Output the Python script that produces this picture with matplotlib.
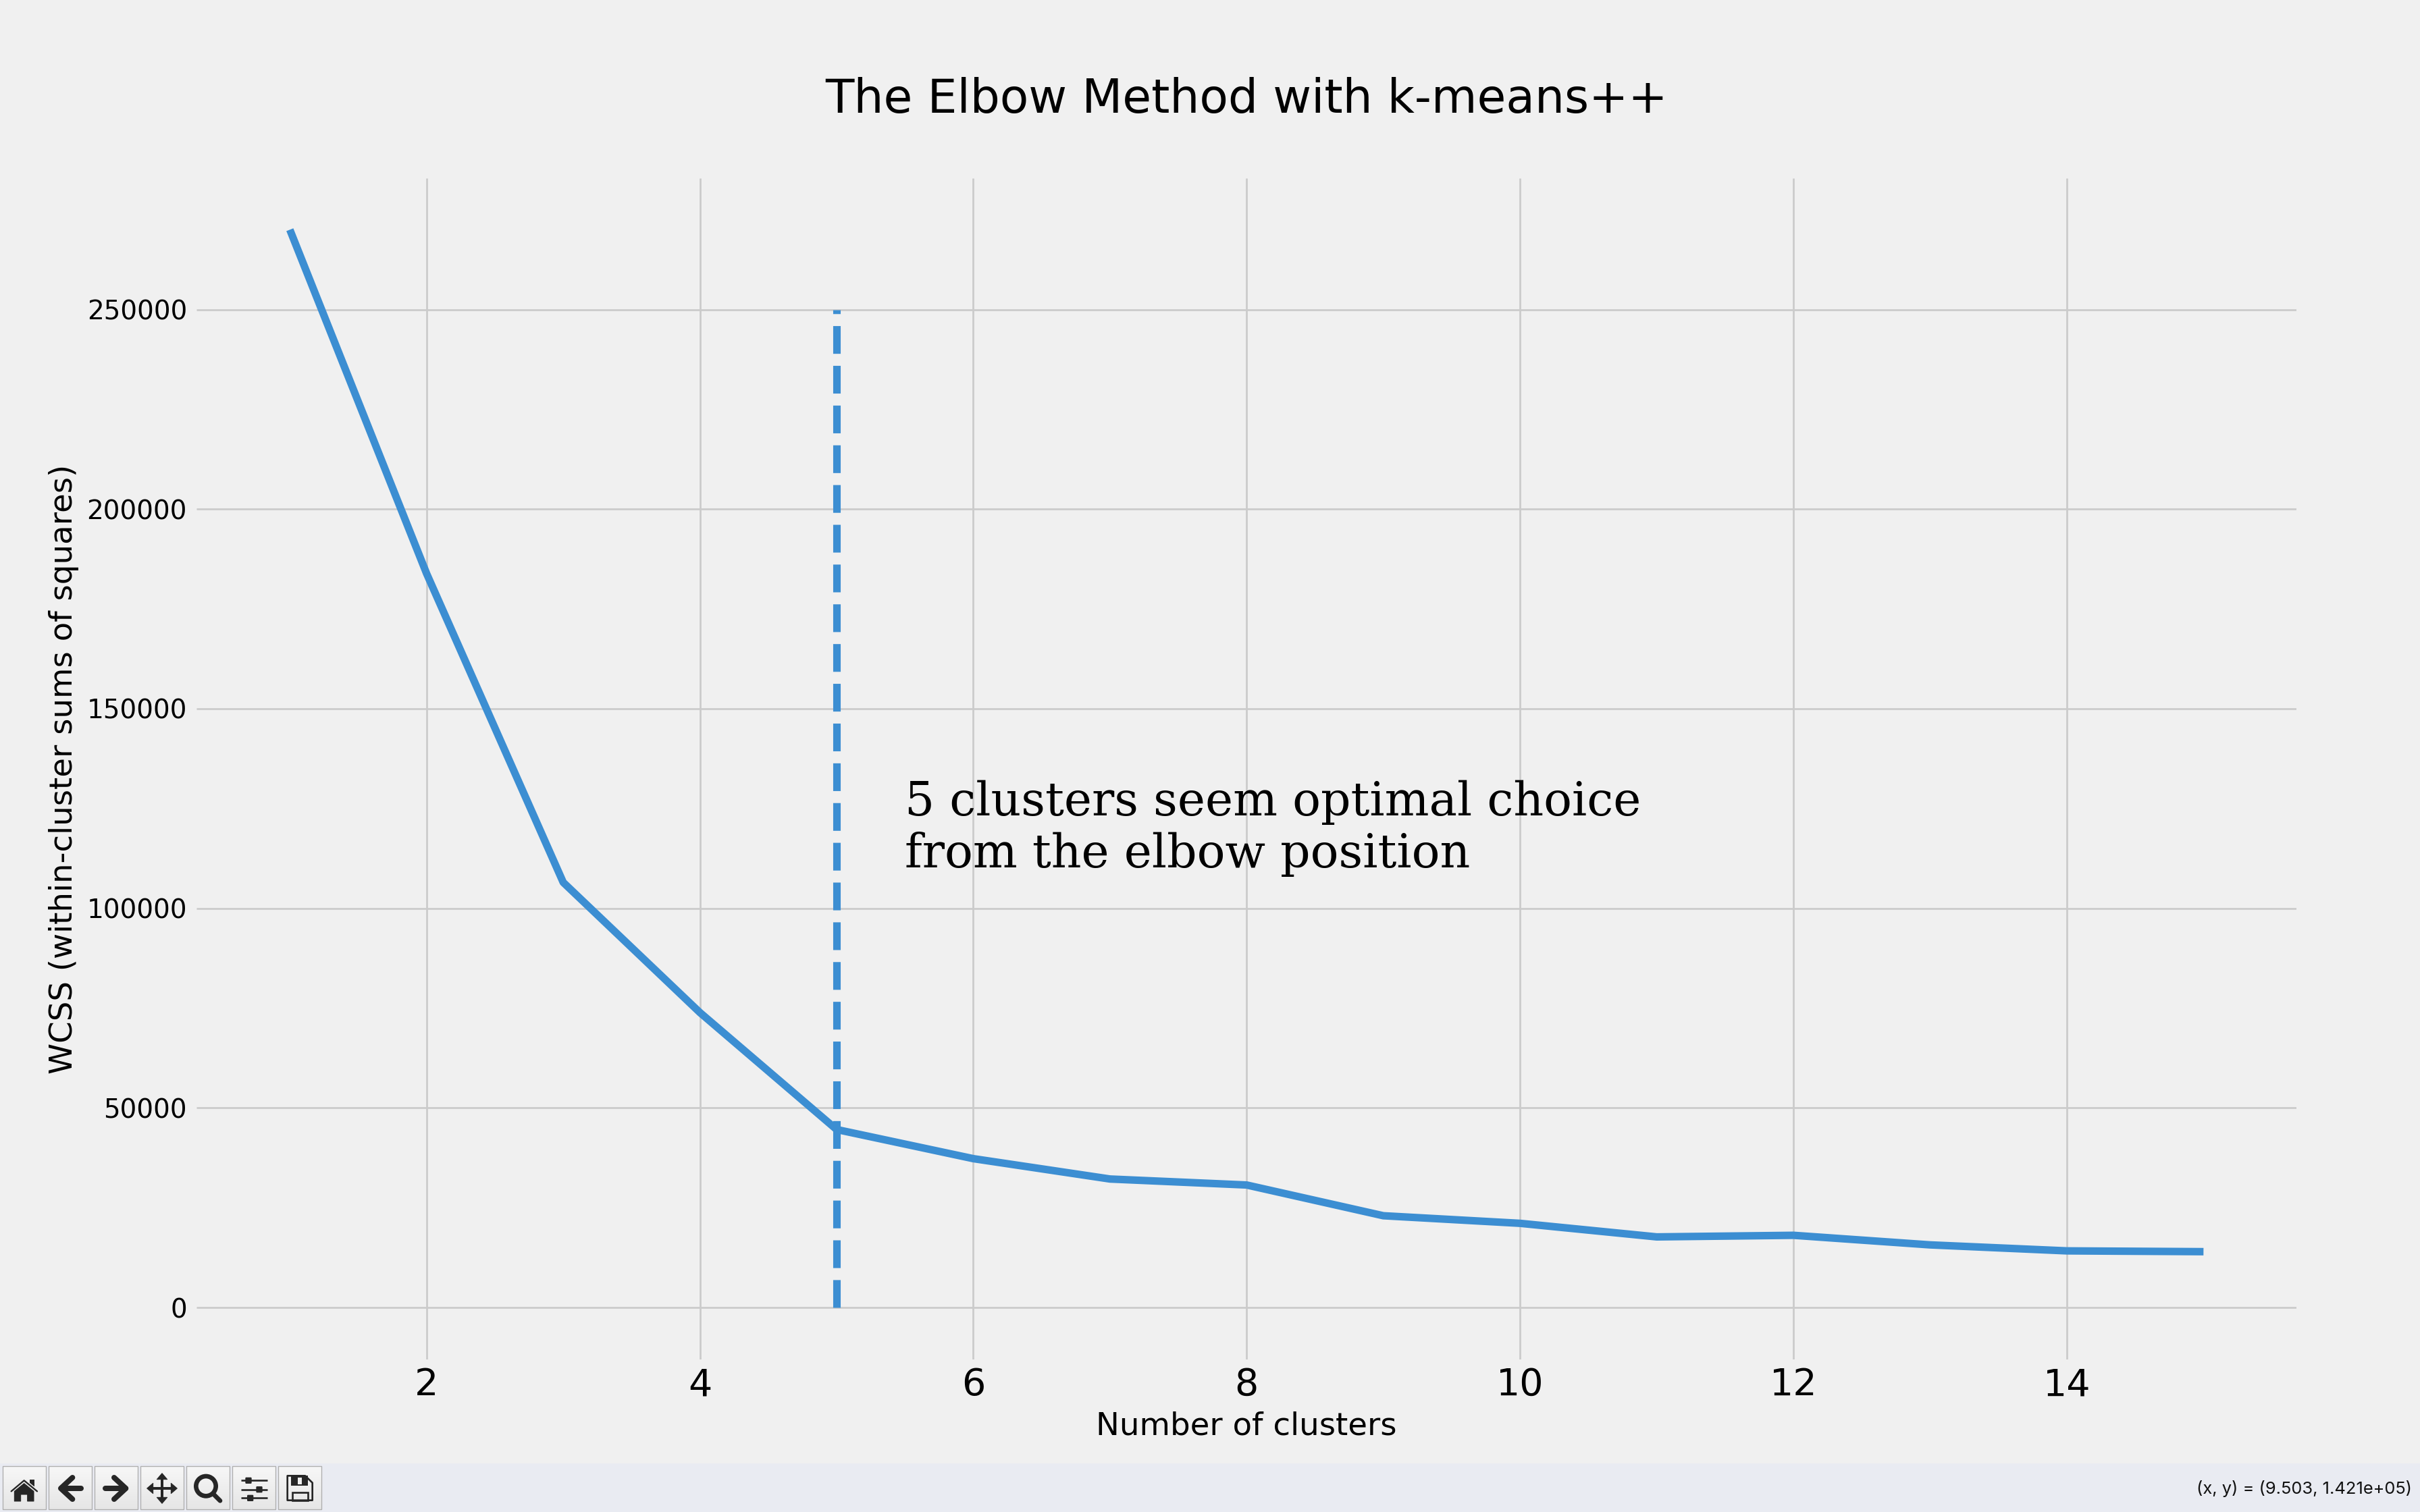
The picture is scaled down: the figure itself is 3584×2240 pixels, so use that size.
import matplotlib
matplotlib.use("Agg")
import matplotlib.pyplot as plt
import numpy as np
from matplotlib.colors import LinearSegmentedColormap
from matplotlib.patches import Rectangle, Polygon, Circle, FancyBboxPatch

plt.style.use("fivethirtyeight")

clusters = list(range(1, 16))
wcss = [270000, 183900, 106500, 73900, 44600, 37300, 32200, 30700,
        23000, 21100, 17700, 18100, 15700, 14200, 14000]
elbow_x = 5
elbow_top = 250000
x_ticks = [2, 4, 6, 8, 10, 12, 14]
y_ticks = [0, 50000, 100000, 150000, 200000, 250000]

LINE_COLOR = "#3c8ed2"
BG = "#f0f0f0"
BAR = "#e9ebf2"
ICON = "#262626"

W, H = 3584, 2240
fig = plt.figure(figsize=(W / 200, H / 200), dpi=200, facecolor=BG)
ax = fig.add_axes([291 / W, 1 - 2014 / H, (3401 - 291) / W, (2014 - 264) / H], facecolor=BG)

ax.plot(clusters, wcss, color=LINE_COLOR, lw=4)
ax.vlines(elbow_x, 0, elbow_top, color=LINE_COLOR, lw=4, linestyles="dashed")
ax.text(5.5, 110200, "5 clusters seem optimal choice\nfrom the elbow position",
        family="serif", fontsize=25, color="black")

ax.set_xlim(0.317, 15.68)
ax.set_ylim(-13000, 282900)
ax.set_xticks(x_ticks)
ax.set_yticks(y_ticks)
ax.tick_params(axis="x", labelsize=20, length=0, pad=4)
ax.tick_params(axis="y", labelsize=14, length=0, pad=5)
ax.grid(True, color="#cbcbcb", lw=1)
for s in ax.spines.values():
    s.set_visible(False)
ax.set_title("The Elbow Method with k-means++", fontsize=25, pad=35)
ax.set_xlabel("Number of clusters", fontsize=16.8, labelpad=4)
ax.set_ylabel("WCSS (within-cluster sums of squares)", fontsize=16.8, labelpad=4)

# window toolbar along the bottom
fig.patches.append(Rectangle((0, 0), 1, 72 / H, transform=fig.transFigure, color=BAR, lw=0))
fig.text(3572 / W, 1 - 2205 / H, "(x, y) = (9.503, 1.421e+05)", family="Inter",
         fontsize=9.2, ha="right", va="center", color="#111111")

# this axes uses the same units as a 3x crop of the bottom left corner
tb = fig.add_axes([0, 0, 520 / W, 100 / H])
tb.set_zorder(5)
tb.axis("off")


def z(width):
    return width * 0.12


grad = np.linspace(0, 1, 64).reshape(-1, 1)
btn_cmap = LinearSegmentedColormap.from_list("btn", ["#e6e6e6", "#f7f7f7"])
for i in range(7):
    x0 = 12 + 204 * i
    tb.imshow(grad, extent=(x0, x0 + 191, 287, 97), cmap=btn_cmap, origin="lower",
              aspect="auto", zorder=1)
    tb.add_patch(Rectangle((x0, 97), 191, 190, fill=False, ec="#aeaeae", lw=z(4), zorder=2))
tb.set_xlim(0, 1560)
tb.set_ylim(300, 0)

kw = dict(color=ICON, solid_capstyle="round", solid_joinstyle="round", zorder=4)

# home
tb.add_patch(Rectangle((132, 155), 20, 32, color=ICON, lw=0, zorder=3))
tb.plot([50, 107, 165], [208, 160, 208], color="#f0f0f0", lw=z(16), zorder=3)
tb.plot([50, 107, 165], [208, 160, 208], lw=z(7), **kw)
tb.add_patch(Polygon([(64, 252), (64, 208), (107, 173), (150, 208), (150, 252), (122, 252),
                      (122, 222), (92, 222), (92, 252)], closed=True, fc=ICON, ec=ICON,
                     lw=z(3), joinstyle="round", zorder=4))
# back, forward
tb.plot([360, 272], [195, 195], lw=z(24), **kw)
tb.plot([322, 270, 322], [147, 195, 243], lw=z(24), **kw)
tb.plot([468, 558], [195, 195], lw=z(24), **kw)
tb.plot([507, 559, 507], [147, 195, 243], lw=z(24), **kw)
# move
tb.plot([720, 720], [140, 250], lw=z(12), **kw)
tb.plot([665, 775], [195, 195], lw=z(12), **kw)
for pts in ([(697, 155), (720, 128), (743, 155)], [(697, 235), (720, 262), (743, 235)],
            [(680, 172), (653, 195), (680, 218)], [(760, 172), (787, 195), (760, 218)]):
    tb.add_patch(Polygon(pts, closed=True, fc=ICON, ec=ICON, lw=z(3), joinstyle="round", zorder=4))
# zoom
tb.add_patch(Circle((915, 185), 44, fill=False, ec=ICON, lw=z(20), zorder=4))
tb.plot([950, 978], [222, 250], lw=z(20), **kw)
# sliders
for yy, kx in ((160, 1104), (200, 1152), (238, 1112)):
    tb.plot([1070, 1187], [yy, yy], lw=z(8), color=ICON, solid_capstyle="butt", zorder=4)
    tb.add_patch(FancyBboxPatch((kx - 11, yy - 11), 22, 22, boxstyle="round,pad=3,rounding_size=4",
                                fc=ICON, ec=ICON, lw=0, zorder=5))
# save
tb.add_patch(Polygon([(1277, 139), (1356, 139), (1388, 170), (1388, 248), (1277, 248)], closed=True,
                     fill=False, ec=ICON, lw=z(8), joinstyle="round", zorder=4))
tb.add_patch(Rectangle((1293, 139), 75, 45, color=ICON, lw=0, zorder=4))
tb.add_patch(Rectangle((1322, 147), 20, 30, color="#efefef", lw=0, zorder=5))
tb.add_patch(Rectangle((1298, 212), 70, 36, fill=False, ec=ICON, lw=z(8), zorder=4))

fig.savefig("out.png", dpi=200, facecolor=BG)
